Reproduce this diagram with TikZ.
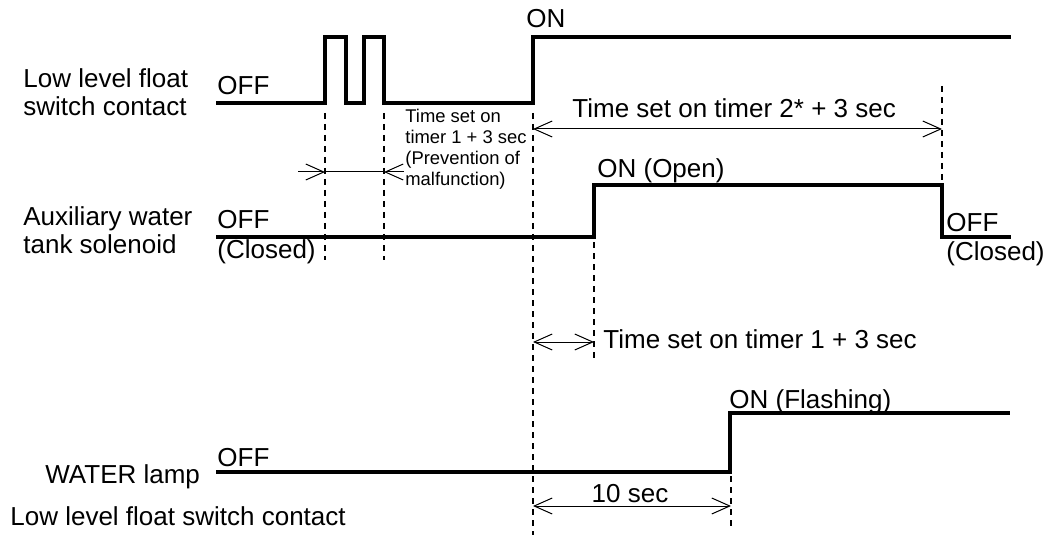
\documentclass[tikz,border=0pt]{standalone}
\usepackage{fontspec}
\setmainfont{Liberation Sans}
\usetikzlibrary{arrows.meta}
\begin{document}
\begin{tikzpicture}[
    x=0.5pt, y=-0.5pt,
    sig/.style={line width=1.7pt},
    guide/.style={line width=0.6pt, dash pattern=on 3pt off 2.5pt},
    dim/.style={line width=0.5pt, {Straight Barb[length=9pt,width=8pt]}-{Straight Barb[length=9pt,width=8pt]}},
    dimR/.style={line width=0.5pt, -{Straight Barb[length=9pt,width=8pt]}},
    txt/.style={font=\fontsize{13pt}{14pt}\selectfont, inner sep=0pt},
    small/.style={font=\fontsize{9.2pt}{10.5pt}\selectfont, inner sep=0pt},
  ]
  \useasboundingbox (0,0) rectangle (1048,545);

  % Signal names
  \node[txt, anchor=north west, align=left] (swName) at (23,68) {Low level float\\switch contact};
  \node[txt, anchor=north west, align=left] (solName) at (23,206) {Auxiliary water\\tank solenoid};
  \node[txt, anchor=base west] (lampName) at (45,483) {WATER lamp};
  \node[txt, anchor=base west] (caption) at (10,525) {Low level float switch contact};

  % Waveforms
  \draw[sig] (216,103) -- (325,103) |- (346,37) |- (364,103) |- (384,37) |- (533,103) |- (1011,37);
  \draw[sig] (216,237) -| (594,185) -| (942,237) -- (1011,237);
  \draw[sig] (216,472) -| (730,413) -- (1010,413);

  % States
  \node[txt, anchor=base west] (swOff) at (217,95) {OFF};
  \node[txt, anchor=base west] (swOn) at (526,28) {ON};
  \node[txt, anchor=base west] (solOff) at (217,228) {OFF};
  \node[txt, anchor=base west] (solClosed) at (217,258) {(Closed)};
  \node[txt, anchor=base west] (solOn) at (597,177) {ON (Open)};
  \node[txt, anchor=base west] (solOffB) at (946,231) {OFF};
  \node[txt, anchor=base west] (solClosedB) at (946,260) {(Closed)};
  \node[txt, anchor=base west] (lampOff) at (217,466) {OFF};
  \node[txt, anchor=base west] (lampOn) at (729,408) {ON (Flashing)};

  % Guide lines
  \draw[guide] (325,113) -- (325,260);
  \draw[guide] (384,113) -- (384,260);
  \draw[guide] (533,113) -- (533,535);
  \draw[guide] (942,86) -- (942,183);
  \draw[guide] (594,242) -- (594,362);
  \draw[guide] (731,476) -- (731,530);

  % Timer spans
  \coordinate (pulseL) at (298,172);
  \coordinate (pulseA) at (325,172);
  \coordinate (pulseB) at (384,172);
  \coordinate (pulseR) at (404,172);
  \draw[dimR] (pulseL) -- (pulseA);
  \draw[line width=0.5pt] (pulseA) -- (pulseB);
  \draw[dimR] (pulseR) -- (pulseB);
  \node[small, anchor=north west, align=left] (pulseTxt) at (405,109) {Time set on\\timer 1 + 3 sec\\(Prevention of\\malfunction)};

  \coordinate (t2a) at (533,129);
  \coordinate (t2b) at (942,129);
  \draw[dim] (t2a) -- (t2b);
  \node[txt, anchor=base west] (t2Txt) at (572,118) {Time set on timer 2* + 3 sec};

  \coordinate (t1a) at (533,342);
  \coordinate (t1b) at (594,342);
  \draw[dim] (t1a) -- (t1b);
  \node[txt, anchor=base west] (t1Txt) at (603,348) {Time set on timer 1 + 3 sec};

  \coordinate (tLa) at (533,506);
  \coordinate (tLb) at (731,506);
  \draw[dim] (tLa) -- (tLb);
  \node[txt, anchor=base] (tLTxt) at (630,502) {10 sec};
\end{tikzpicture}
\end{document}
